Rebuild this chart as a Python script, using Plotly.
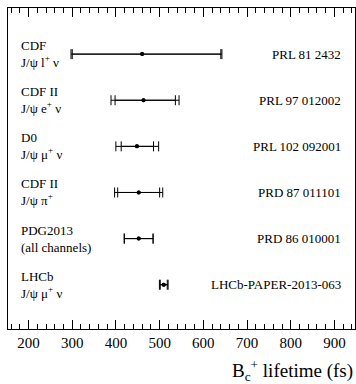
import plotly.graph_objects as go

# Data (fs)
experiments = ["CDF<br>J/ψ l<sup>+</sup> ν", "CDF II<br>J/ψ e<sup>+</sup> ν", "D0<br>J/ψ μ<sup>+</sup> ν",
               "CDF II<br>J/ψ π<sup>+</sup>", "PDG2013<br>(all channels)", "LHCb<br>J/ψ μ<sup>+</sup> ν"]
references = ["PRL 81 2432", "PRL 97 012002", "PRL 102 092001", "PRD 87 011101",
              "PRD 86 010001", "LHCb-PAPER-2013-063"]
lifetime = [460, 463, 448, 452, 452, 509.4]
stat_plus = [180, 73, 38, 48, 33, 8.0]
stat_minus = [160, 65, 36, 48, 33, 8.0]
syst = [30, 36, 32, 27, 0, 5.9]

ypos = [6, 5, 4, 3, 2, 1]

tot_plus = [(a**2 + s**2) ** 0.5 for a, s in zip(stat_plus, syst)]
tot_minus = [(a**2 + s**2) ** 0.5 for a, s in zip(stat_minus, syst)]

FONT = "Liberation Serif"

fig = go.Figure()
fig.add_trace(go.Scatter(
    x=lifetime, y=ypos, mode="markers",
    marker=dict(color="black", size=4, symbol="circle"),
    error_x=dict(type="data", symmetric=False, array=tot_plus, arrayminus=tot_minus,
                 color="black", thickness=1, width=5),
    showlegend=False, hoverinfo="skip"))
fig.add_trace(go.Scatter(
    x=lifetime, y=ypos, mode="markers",
    marker=dict(color="black", size=4, symbol="circle"),
    error_x=dict(type="data", symmetric=False, array=stat_plus, arrayminus=stat_minus,
                 color="black", thickness=1, width=5),
    showlegend=False, hoverinfo="skip"))

annotations = []
for lab, ref, y in zip(experiments, references, ypos):
    annotations.append(dict(x=0.032, xref="paper", y=y, yref="y", text=lab, showarrow=False,
                            xanchor="left", yanchor="middle", align="left",
                            font=dict(family=FONT, size=13, color="black")))
    annotations.append(dict(x=0.965, xref="paper", y=y, yref="y", text=ref, showarrow=False,
                            xanchor="right", yanchor="middle",
                            font=dict(family=FONT, size=13, color="black")))
annotations.append(dict(x=1.0, xref="paper", y=-0.128, yref="paper",
                        text="B<sub>c</sub><sup>+</sup> lifetime (fs)", showarrow=False,
                        xanchor="right", yanchor="middle",
                        font=dict(family=FONT, size=19, color="black")))

fig.update_layout(
    width=356, height=384,
    margin=dict(l=8, r=1, t=8, b=55),
    paper_bgcolor="white", plot_bgcolor="white",
    annotations=annotations,
    xaxis=dict(range=[153, 947], showline=True, linecolor="black", linewidth=1, mirror="ticks",
               ticks="inside", ticklen=9, tickcolor="black", dtick=100, tick0=0,
               minor=dict(dtick=20, ticks="inside", ticklen=5, tickcolor="black"),
               showgrid=False, zeroline=False,
               tickfont=dict(family=FONT, size=15, color="black")),
    yaxis=dict(range=[0.04, 7.0], showline=True, linecolor="black", linewidth=1, mirror=True,
               ticks="", showticklabels=False, showgrid=False, zeroline=False),
)

fig.write_html("out.html")
